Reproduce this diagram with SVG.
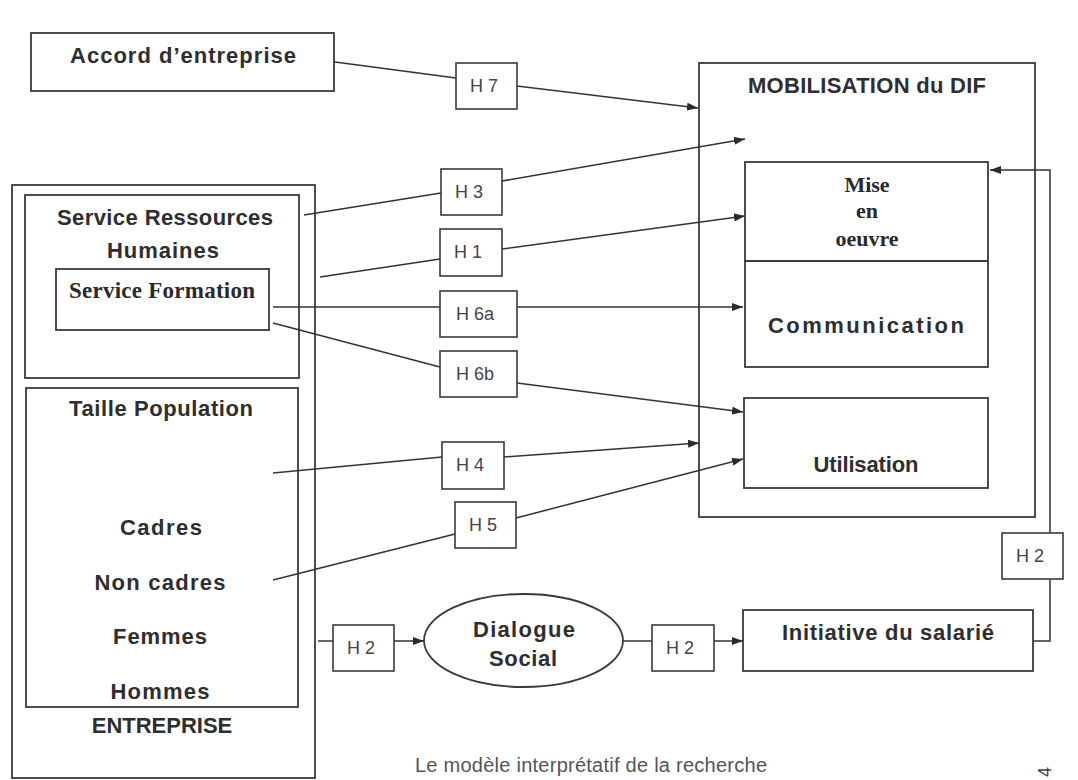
<svg xmlns="http://www.w3.org/2000/svg" width="1078" height="780" viewBox="0 0 1078 780">
  <style>
    .box { fill: none; stroke: #3a3a3a; stroke-width: 1.8; }
    .hbox { fill: #fff; stroke: #3a3a3a; stroke-width: 1.6; }
    .link { fill: none; stroke: #333; stroke-width: 1.5; }
    .lbl { font-family: "Liberation Sans", Arial, sans-serif; font-weight: bold; font-size: 22px; fill: #2e2e2e; text-anchor: middle; }
    .ser { font-family: "Liberation Serif", "Times New Roman", serif; font-weight: bold; fill: #2a2a2a; text-anchor: middle; }
    .h { font-family: "Liberation Sans", Arial, sans-serif; font-size: 18px; fill: #444; text-anchor: middle; }
    .cap { font-family: "Liberation Sans", Arial, sans-serif; font-size: 20px; fill: #555; }
  </style>
  <defs>
    <marker id="arrow" markerUnits="userSpaceOnUse" markerWidth="11" markerHeight="8" refX="11" refY="4" orient="auto">
      <path d="M0,0 L11,4 L0,8 z" fill="#2a2a2a"/>
    </marker>
  </defs>

  <rect width="1078" height="780" fill="#ffffff"/>

  <!-- Accord d'entreprise -->
  <g id="accord">
    <rect class="box" x="31" y="33" width="303" height="58"/>
    <text class="lbl" x="183" y="63" font-size="23.5" textLength="226">Accord d’entreprise</text>
  </g>

  <!-- Entreprise (outer frame) -->
  <g id="entreprise">
    <rect class="box" x="12" y="185" width="303" height="593"/>
    <text class="lbl" x="162" y="733" font-size="18">ENTREPRISE</text>
  </g>

  <!-- Service Ressources Humaines -->
  <g id="srh">
    <rect class="box" x="25" y="195" width="274" height="183"/>
    <text class="lbl" x="165" y="225" textLength="216">Service Ressources</text>
    <text class="lbl" x="163" y="258" textLength="112">Humaines</text>
  </g>

  <!-- Service Formation -->
  <g id="formation">
    <rect class="box" x="56" y="269" width="213" height="61"/>
    <text class="ser" x="162" y="298" font-size="23" textLength="186">Service Formation</text>
  </g>

  <!-- Taille Population -->
  <g id="population">
    <rect class="box" x="26" y="388" width="272" height="319"/>
    <text class="lbl" x="161" y="416" textLength="184">Taille Population</text>
    <text class="lbl" x="161" y="535" textLength="82">Cadres</text>
    <text class="lbl" x="160" y="590" textLength="131">Non cadres</text>
    <text class="lbl" x="160" y="644" textLength="94">Femmes</text>
    <text class="lbl" x="160" y="699" textLength="99">Hommes</text>
  </g>

  <!-- Mobilisation du DIF -->
  <g id="mobilisation">
    <rect class="box" x="699" y="63" width="336" height="454"/>
    <text class="lbl" x="867" y="93" textLength="238">MOBILISATION du DIF</text>
  </g>

  <!-- Mise en oeuvre -->
  <g id="mise-en-oeuvre">
    <rect class="box" x="745" y="162" width="243" height="99"/>
    <text class="ser" x="867" y="192" font-size="22">Mise</text>
    <text class="ser" x="867" y="218" font-size="22">en</text>
    <text class="ser" x="867" y="246" font-size="22">oeuvre</text>
  </g>

  <!-- Communication -->
  <g id="communication">
    <rect class="box" x="745" y="261" width="243" height="106"/>
    <text class="lbl" x="866" y="333" textLength="196">Communication</text>
  </g>

  <!-- Utilisation -->
  <g id="utilisation">
    <rect class="box" x="744" y="398" width="244" height="90"/>
    <text class="lbl" x="866" y="472" textLength="105">Utilisation</text>
  </g>

  <!-- Dialogue Social -->
  <g id="dialogue">
    <ellipse class="box" cx="523.5" cy="640.5" rx="99.5" ry="46.5"/>
    <text class="lbl" x="524" y="637" textLength="102">Dialogue</text>
    <text class="lbl" x="523" y="666" textLength="68">Social</text>
  </g>

  <!-- Initiative du salarié -->
  <g id="initiative">
    <rect class="box" x="743" y="610" width="290" height="61"/>
    <text class="lbl" x="888" y="640" textLength="212">Initiative du salarié</text>
  </g>

  <!-- Connectors -->
  <g id="connectors">
    <line class="link" x1="335" y1="62" x2="456" y2="78"/>
    <line class="link" x1="517" y1="86" x2="698" y2="108" marker-end="url(#arrow)"/>

    <line class="link" x1="304" y1="215" x2="441" y2="193"/>
    <line class="link" x1="502" y1="181" x2="745" y2="139" marker-end="url(#arrow)"/>

    <line class="link" x1="320" y1="277" x2="440" y2="259"/>
    <line class="link" x1="502" y1="249" x2="745" y2="216" marker-end="url(#arrow)"/>

    <line class="link" x1="273" y1="307" x2="440" y2="307"/>
    <line class="link" x1="517" y1="307" x2="743" y2="307" marker-end="url(#arrow)"/>

    <line class="link" x1="273" y1="323" x2="440" y2="367"/>
    <line class="link" x1="517" y1="383" x2="743" y2="412" marker-end="url(#arrow)"/>

    <line class="link" x1="273" y1="473" x2="442" y2="457"/>
    <line class="link" x1="504" y1="457" x2="699" y2="443" marker-end="url(#arrow)"/>

    <line class="link" x1="273" y1="580" x2="455" y2="534"/>
    <line class="link" x1="516" y1="518" x2="743" y2="459" marker-end="url(#arrow)"/>

    <line class="link" x1="318" y1="641" x2="333" y2="641"/>
    <line class="link" x1="394" y1="641" x2="424" y2="641" marker-end="url(#arrow)"/>

    <line class="link" x1="623" y1="641" x2="652" y2="641"/>
    <line class="link" x1="714" y1="641" x2="743" y2="641" marker-end="url(#arrow)"/>

    <polyline class="link" points="1033,641 1050,641 1050,579"/>
    <polyline class="link" points="1050,533 1050,170 990,170" marker-end="url(#arrow)"/>
  </g>

  <!-- Hypothesis labels -->
  <g id="h7"><rect class="hbox" x="456" y="63" width="61" height="46"/><text class="h" x="484" y="92">H 7</text></g>
  <g id="h3"><rect class="hbox" x="441" y="169" width="61" height="46"/><text class="h" x="469" y="198">H 3</text></g>
  <g id="h1"><rect class="hbox" x="440" y="229" width="62" height="47"/><text class="h" x="468" y="258">H 1</text></g>
  <g id="h6a"><rect class="hbox" x="440" y="291" width="77" height="46"/><text class="h" x="475" y="320">H 6a</text></g>
  <g id="h6b"><rect class="hbox" x="440" y="351" width="77" height="46"/><text class="h" x="475" y="380">H 6b</text></g>
  <g id="h4"><rect class="hbox" x="442" y="442" width="62" height="47"/><text class="h" x="470" y="471">H 4</text></g>
  <g id="h5"><rect class="hbox" x="455" y="502" width="61" height="46"/><text class="h" x="483" y="531">H 5</text></g>
  <g id="h2-a"><rect class="hbox" x="333" y="625" width="61" height="46"/><text class="h" x="361" y="654">H 2</text></g>
  <g id="h2-b"><rect class="hbox" x="652" y="625" width="62" height="46"/><text class="h" x="680" y="654">H 2</text></g>
  <g id="h2-c"><rect class="hbox" x="1002" y="533" width="61" height="46"/><text class="h" x="1030" y="562">H 2</text></g>

  <!-- Caption and page number -->
  <text class="cap" x="415" y="772" textLength="352">Le modèle interprétatif de la recherche</text>
  <text class="h" x="1047" y="776" font-size="15" transform="rotate(-90 1047 772)">4</text>
</svg>
